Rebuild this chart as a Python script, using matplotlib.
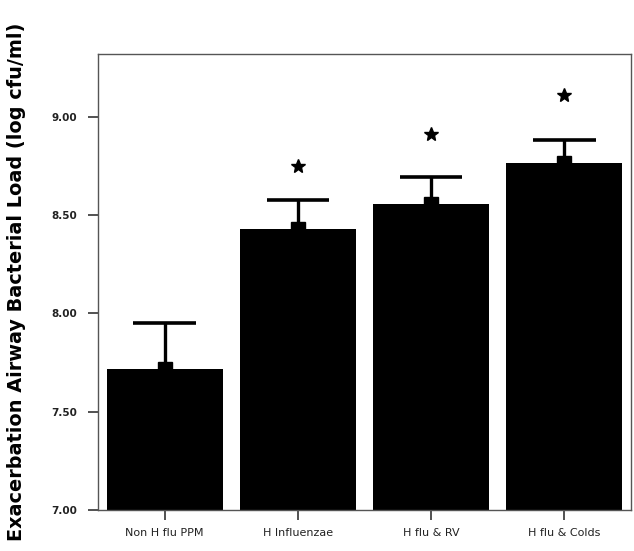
import matplotlib
matplotlib.use("Agg")
import matplotlib.pyplot as plt
import numpy as np

categories = ["Non H flu PPM", "H Influenzae", "H flu & RV", "H flu & Colds"]
means = [7.718, 8.43, 8.557, 8.766]
upper_err = [0.234, 0.148, 0.138, 0.117]
star_y = [None, 8.75, 8.913, 9.11]
yticks = [7.00, 7.50, 8.00, 8.50, 9.00]
ytick_labels = ["7.00", "7.50", "8.00", "8.50", "9.00"]

fig = plt.figure(figsize=(6.34, 5.51), dpi=100)
ax = fig.add_axes([0.1546, 0.0744, 0.8404, 0.8276])

x = np.arange(len(categories))
means_a = np.array(means)
tops = means_a + np.array(upper_err)
ax.bar(x, means, width=0.87, color="black", zorder=2)
ax.vlines(x, means_a, tops, color="black", linewidth=2.4, zorder=3)
ax.hlines(tops, x - 0.235, x + 0.235, color="black", linewidth=2.6, zorder=3)
ax.plot(x, means, linestyle="none", marker="s", markersize=10.5,
        color="black", zorder=4)
for xi, sy in zip(x, star_y):
    if sy is not None:
        ax.plot(xi, sy, marker="*", markersize=10, color="black",
                linestyle="none", zorder=4)

ax.set_xlim(-0.5, 3.5)
ax.set_ylim(7.0, 9.32)
ax.set_yticks(yticks)
ax.set_yticklabels(ytick_labels, fontsize=7.5, fontweight="bold", color="#222222")
ax.set_xticks(x)
ax.set_xticklabels(categories, fontsize=8, color="#222222")
ax.tick_params(axis="both", direction="out", length=7, width=1.2, color="#333333")
ax.tick_params(axis="y", pad=8)
ax.tick_params(axis="x", pad=6)
for s in ax.spines.values():
    s.set_color("#555555")
    s.set_linewidth(1.0)

ax.set_ylabel("Exacerbation Airway Bacterial Load (log cfu/ml)", fontsize=13.9,
              fontweight="heavy", labelpad=18)

fig.savefig("out.png", dpi=100)
